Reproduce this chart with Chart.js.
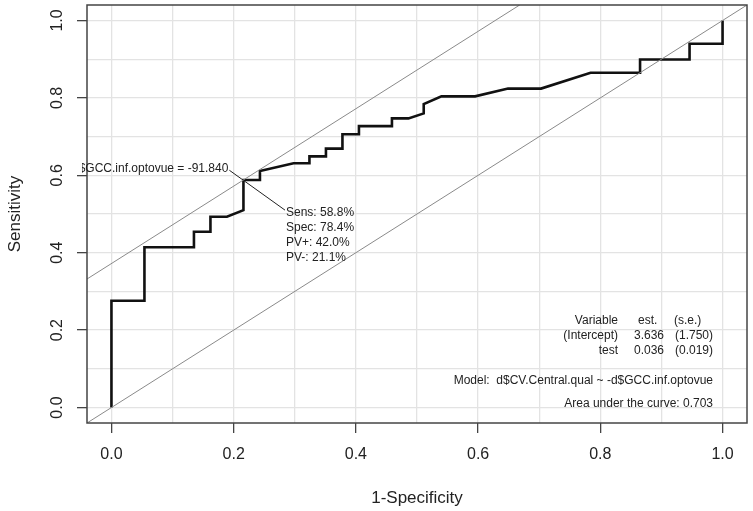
<!DOCTYPE html>
<html lang="en">
<head>
  <meta charset="UTF-8">
  <title>ROC curve</title>
  <script src="https://cdn.jsdelivr.net/npm/chart.js"></script>
</head>
<body style="margin:0;background:#fff;">
  <div style="width:753px;height:511px;">
    <canvas id="rocChart" width="753" height="511"></canvas>
  </div>
  <script>
    // ROC curve: 1-specificity vs sensitivity
    const fpr  = [0, 0, 0.054, 0.054, 0.135, 0.135, 0.162, 0.162, 0.189, 0.216, 0.216, 0.243, 0.243, 0.298, 0.324, 0.324, 0.351, 0.351, 0.378, 0.378, 0.405, 0.405, 0.459, 0.459, 0.486, 0.511, 0.511, 0.540, 0.595, 0.649, 0.703, 0.784, 0.865, 0.865, 0.946, 0.946, 1.0, 1.0];
    const sens = [0, 0.276, 0.276, 0.414, 0.414, 0.454, 0.454, 0.493, 0.493, 0.510, 0.588, 0.588, 0.611, 0.631, 0.631, 0.649, 0.649, 0.669, 0.669, 0.706, 0.706, 0.727, 0.727, 0.747, 0.747, 0.760, 0.784, 0.804, 0.804, 0.824, 0.824, 0.865, 0.865, 0.899, 0.899, 0.940, 0.940, 1.0];

    // reference diagonal and the parallel line through the cut-off point (ends on the box)
    const diagX = [-0.04, 1.04];
    const diagY = [-0.04, 1.04];
    const cutLineX = [-0.04, 0.668];
    const cutLineY = [0.332, 1.04];
    // leader line of the cut-off label
    const leaderX = [0.193, 0.284];
    const leaderY = [0.613, 0.510];

    const tickVals = [0, 0.1, 0.2, 0.3, 0.4, 0.5, 0.6, 0.7, 0.8, 0.9, 1.0];

    const cutLabel = 'd$GCC.inf.optovue = -91.840';
    const cutStats = ['Sens: 58.8%', 'Spec: 78.4%', 'PV+: 42.0%', 'PV-: 21.1%'];
    const tableRows = [
      ['Variable', 'est.', '(s.e.)'],
      ['(Intercept)', '3.636', '(1.750)'],
      ['test', '0.036', '(0.019)']
    ];
    const modelText = 'Model:  d$CV.Central.qual ~ -d$GCC.inf.optovue';
    const aucText = 'Area under the curve: 0.703';

    const FONT = "'Liberation Sans', Arial, sans-serif";
    const TXT = '#222';
    const isMajor = v => Math.abs(v * 5 - Math.round(v * 5)) < 1e-6;
    const pts = (xs, ys) => xs.map((v, i) => ({ x: v, y: ys[i] }));

    const axisGrid = {
      color: '#e3e3e3',
      lineWidth: 1.3,
      tickLength: 10,
      tickWidth: 1.3,
      tickColor: c => (c.tick && isMajor(c.tick.value)) ? '#444' : 'rgba(0,0,0,0)'
    };

    // text, box and rotated y labels
    const rocText = {
      id: 'rocText',
      afterDraw(chart) {
        const { ctx, chartArea: a, scales: { x, y } } = chart;
        ctx.save();
        ctx.strokeStyle = '#444';
        ctx.lineWidth = 1.5;
        ctx.strokeRect(a.left, a.top, a.right - a.left, a.bottom - a.top);

        ctx.fillStyle = TXT;
        // y tick labels, parallel to axis
        ctx.font = '16px ' + FONT;
        ctx.textAlign = 'center';
        ctx.textBaseline = 'alphabetic';
        tickVals.filter(isMajor).forEach(v => {
          ctx.save();
          ctx.translate(a.left - 25, y.getPixelForValue(v));
          ctx.rotate(-Math.PI / 2);
          ctx.fillText(v.toFixed(1), 0, 0);
          ctx.restore();
        });
        // axis titles
        ctx.font = '17px ' + FONT;
        ctx.fillText('1-Specificity', (a.left + a.right) / 2, 503);
        ctx.save();
        ctx.translate(20, (a.top + a.bottom) / 2);
        ctx.rotate(-Math.PI / 2);
        ctx.fillText('Sensitivity', 0, 0);
        ctx.restore();

        // cut-off label (clipped at the left like the original)
        ctx.font = '12px ' + FONT;
        ctx.textBaseline = 'middle';
        const lx = x.getPixelForValue(leaderX[0]);
        const ly = y.getPixelForValue(leaderY[0]);
        ctx.save();
        ctx.beginPath();
        ctx.rect(82, 0, 753, 511);
        ctx.clip();
        ctx.textAlign = 'right';
        ctx.fillText(cutLabel, lx - 1, ly - 2);
        ctx.restore();
        const sx = x.getPixelForValue(leaderX[1]);
        const sy = y.getPixelForValue(leaderY[1]);
        ctx.textAlign = 'left';
        cutStats.forEach((t, i) => ctx.fillText(t, sx + 1, sy + 3 + i * 15));

        // model summary, bottom right
        const r = a.right - 34;
        tableRows.forEach((row, i) => {
          const ty = 321 + i * 14.8;
          ctx.textAlign = 'right';
          ctx.fillText(row[0], 618, ty);
          if (i === 0) {
            ctx.textAlign = 'left';
            ctx.fillText(row[1], 638, ty);
            ctx.fillText(row[2], 674, ty);
          } else {
            ctx.fillText(row[1], 664, ty);
            ctx.fillText(row[2], r, ty);
          }
        });
        ctx.textAlign = 'right';
        ctx.fillText(modelText, r, 381);
        ctx.fillText(aucText, r, 404);
        ctx.restore();
      }
    };

    new Chart(document.getElementById('rocChart').getContext('2d'), {
      type: 'scatter',
      data: {
        datasets: [
          { data: pts(diagX, diagY), showLine: true, borderColor: '#8a8a8a', borderWidth: 1, pointRadius: 0 },
          { data: pts(cutLineX, cutLineY), showLine: true, borderColor: '#8a8a8a', borderWidth: 1, pointRadius: 0 },
          { data: pts(leaderX, leaderY), showLine: true, borderColor: '#222', borderWidth: 1, pointRadius: 0 },
          { data: pts(fpr, sens), showLine: true, borderColor: '#111', borderWidth: 2.6, pointRadius: 0, tension: 0 }
        ]
      },
      options: {
        responsive: false,
        animation: false,
        devicePixelRatio: 1,
        layout: { padding: { top: 5, right: 6, left: 0, bottom: 0 } },
        plugins: { legend: { display: false }, tooltip: { enabled: false } },
        scales: {
          x: {
            type: 'linear', min: -0.04, max: 1.04,
            afterBuildTicks: s => { s.ticks = tickVals.map(v => ({ value: v })); },
            afterFit: s => { s.height = 88; },
            grid: axisGrid,
            border: { display: false },
            ticks: {
              autoSkip: false, maxRotation: 0, padding: 12, color: TXT,
              font: { family: FONT, size: 16 },
              callback: v => isMajor(v) ? v.toFixed(1) : ''
            }
          },
          y: {
            type: 'linear', min: -0.04, max: 1.04,
            afterBuildTicks: s => { s.ticks = tickVals.map(v => ({ value: v })); },
            afterFit: s => { s.width = 87; },
            grid: axisGrid,
            border: { display: false },
            ticks: { display: false }
          }
        }
      },
      plugins: [rocText]
    });
  </script>
</body>
</html>
